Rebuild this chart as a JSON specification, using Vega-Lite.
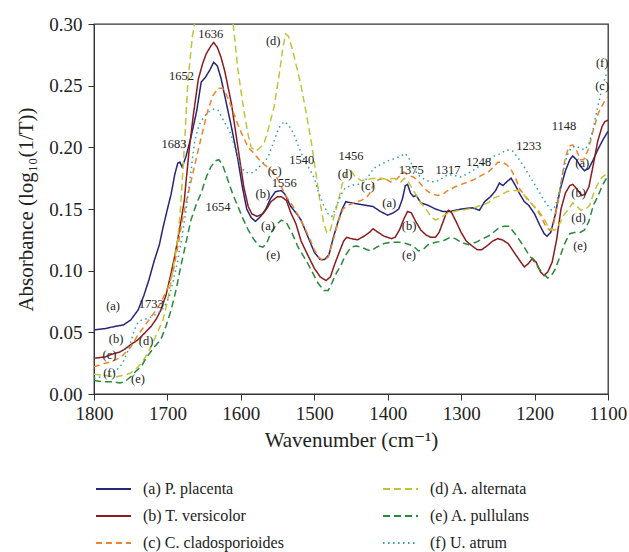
{
  "$schema": "https://vega.github.io/schema/vega-lite/v6.json",
  "width": 514,
  "height": 370,
  "padding": {"left": 15, "top": 15, "right": 5, "bottom": 5},
  "background": "white",
  "config": {
    "font": "Liberation Serif, DejaVu Serif, serif",
    "view": {"stroke": "#333", "strokeWidth": 1.3},
    "axis": {"grid": false, "domainColor": "#333", "tickColor": "#333", "labelColor": "#222", "titleColor": "#222", "labelFont": "Liberation Serif, DejaVu Serif, serif", "titleFont": "Liberation Serif, DejaVu Serif, serif", "titleFontWeight": "normal"},
    "legend": {"labelFont": "Liberation Serif, DejaVu Serif, serif"},
    "text": {"font": "Liberation Serif, DejaVu Serif, serif"}
  },
  "datasets": {
    "spectra": [
      {"s":"a","w":1800,"v":0.052},{"s":"a","w":1785,"v":0.053},{"s":"a","w":1770,"v":0.055},{"s":"a","w":1760,"v":0.056},{"s":"a","w":1750,"v":0.060},{"s":"a","w":1740,"v":0.068},{"s":"a","w":1732,"v":0.080},{"s":"a","w":1725,"v":0.093},{"s":"a","w":1718,"v":0.108},{"s":"a","w":1711,"v":0.121},{"s":"a","w":1706,"v":0.135},{"s":"a","w":1700,"v":0.150},{"s":"a","w":1695,"v":0.162},{"s":"a","w":1690,"v":0.178},{"s":"a","w":1686,"v":0.187},{"s":"a","w":1683,"v":0.188},{"s":"a","w":1680,"v":0.184},{"s":"a","w":1675,"v":0.192},{"s":"a","w":1668,"v":0.208},{"s":"a","w":1660,"v":0.230},{"s":"a","w":1654,"v":0.253},{"s":"a","w":1648,"v":0.257},{"s":"a","w":1642,"v":0.263},{"s":"a","w":1637,"v":0.269},{"s":"a","w":1632,"v":0.266},{"s":"a","w":1627,"v":0.256},{"s":"a","w":1622,"v":0.242},{"s":"a","w":1613,"v":0.217},{"s":"a","w":1604,"v":0.190},{"s":"a","w":1598,"v":0.168},{"s":"a","w":1592,"v":0.150},{"s":"a","w":1586,"v":0.143},{"s":"a","w":1580,"v":0.140},{"s":"a","w":1573,"v":0.144},{"s":"a","w":1566,"v":0.150},{"s":"a","w":1560,"v":0.158},{"s":"a","w":1553,"v":0.164},{"s":"a","w":1545,"v":0.165},{"s":"a","w":1540,"v":0.162},{"s":"a","w":1532,"v":0.152},{"s":"a","w":1525,"v":0.147},{"s":"a","w":1518,"v":0.141},{"s":"a","w":1509,"v":0.128},{"s":"a","w":1500,"v":0.115},{"s":"a","w":1492,"v":0.109},{"s":"a","w":1486,"v":0.109},{"s":"a","w":1480,"v":0.113},{"s":"a","w":1474,"v":0.127},{"s":"a","w":1468,"v":0.139},{"s":"a","w":1462,"v":0.150},{"s":"a","w":1457,"v":0.156},{"s":"a","w":1450,"v":0.155},{"s":"a","w":1440,"v":0.154},{"s":"a","w":1430,"v":0.153},{"s":"a","w":1420,"v":0.152},{"s":"a","w":1410,"v":0.148},{"s":"a","w":1400,"v":0.145},{"s":"a","w":1392,"v":0.147},{"s":"a","w":1385,"v":0.150},{"s":"a","w":1380,"v":0.158},{"s":"a","w":1376,"v":0.169},{"s":"a","w":1373,"v":0.170},{"s":"a","w":1369,"v":0.163},{"s":"a","w":1365,"v":0.160},{"s":"a","w":1361,"v":0.161},{"s":"a","w":1355,"v":0.155},{"s":"a","w":1345,"v":0.153},{"s":"a","w":1335,"v":0.150},{"s":"a","w":1325,"v":0.148},{"s":"a","w":1315,"v":0.148},{"s":"a","w":1300,"v":0.150},{"s":"a","w":1285,"v":0.151},{"s":"a","w":1275,"v":0.149},{"s":"a","w":1268,"v":0.156},{"s":"a","w":1260,"v":0.160},{"s":"a","w":1253,"v":0.165},{"s":"a","w":1248,"v":0.171},{"s":"a","w":1243,"v":0.169},{"s":"a","w":1238,"v":0.172},{"s":"a","w":1232,"v":0.175},{"s":"a","w":1226,"v":0.169},{"s":"a","w":1220,"v":0.162},{"s":"a","w":1214,"v":0.156},{"s":"a","w":1208,"v":0.153},{"s":"a","w":1200,"v":0.146},{"s":"a","w":1193,"v":0.137},{"s":"a","w":1187,"v":0.130},{"s":"a","w":1183,"v":0.128},{"s":"a","w":1178,"v":0.131},{"s":"a","w":1172,"v":0.145},{"s":"a","w":1165,"v":0.166},{"s":"a","w":1158,"v":0.181},{"s":"a","w":1152,"v":0.190},{"s":"a","w":1148,"v":0.193},{"s":"a","w":1143,"v":0.190},{"s":"a","w":1138,"v":0.185},{"s":"a","w":1132,"v":0.181},{"s":"a","w":1126,"v":0.183},{"s":"a","w":1120,"v":0.190},{"s":"a","w":1114,"v":0.198},{"s":"a","w":1107,"v":0.206},{"s":"a","w":1100,"v":0.213},

      {"s":"b","w":1800,"v":0.029},{"s":"b","w":1785,"v":0.030},{"s":"b","w":1777,"v":0.032},{"s":"b","w":1765,"v":0.034},{"s":"b","w":1759,"v":0.036},{"s":"b","w":1750,"v":0.040},{"s":"b","w":1740,"v":0.044},{"s":"b","w":1730,"v":0.050},{"s":"b","w":1722,"v":0.055},{"s":"b","w":1715,"v":0.061},{"s":"b","w":1709,"v":0.068},{"s":"b","w":1702,"v":0.080},{"s":"b","w":1695,"v":0.098},{"s":"b","w":1690,"v":0.112},{"s":"b","w":1686,"v":0.125},{"s":"b","w":1681,"v":0.142},{"s":"b","w":1677,"v":0.157},{"s":"b","w":1675,"v":0.170},{"s":"b","w":1670,"v":0.200},{"s":"b","w":1665,"v":0.225},{"s":"b","w":1658,"v":0.255},{"s":"b","w":1652,"v":0.268},{"s":"b","w":1647,"v":0.276},{"s":"b","w":1641,"v":0.282},{"s":"b","w":1637,"v":0.285},{"s":"b","w":1632,"v":0.281},{"s":"b","w":1627,"v":0.273},{"s":"b","w":1622,"v":0.262},{"s":"b","w":1613,"v":0.236},{"s":"b","w":1604,"v":0.200},{"s":"b","w":1596,"v":0.168},{"s":"b","w":1590,"v":0.152},{"s":"b","w":1585,"v":0.146},{"s":"b","w":1578,"v":0.144},{"s":"b","w":1570,"v":0.146},{"s":"b","w":1565,"v":0.150},{"s":"b","w":1559,"v":0.156},{"s":"b","w":1550,"v":0.160},{"s":"b","w":1545,"v":0.160},{"s":"b","w":1538,"v":0.157},{"s":"b","w":1532,"v":0.147},{"s":"b","w":1525,"v":0.138},{"s":"b","w":1518,"v":0.124},{"s":"b","w":1510,"v":0.114},{"s":"b","w":1500,"v":0.102},{"s":"b","w":1492,"v":0.095},{"s":"b","w":1484,"v":0.092},{"s":"b","w":1478,"v":0.095},{"s":"b","w":1473,"v":0.104},{"s":"b","w":1466,"v":0.115},{"s":"b","w":1460,"v":0.124},{"s":"b","w":1456,"v":0.127},{"s":"b","w":1450,"v":0.126},{"s":"b","w":1441,"v":0.125},{"s":"b","w":1432,"v":0.128},{"s":"b","w":1425,"v":0.131},{"s":"b","w":1420,"v":0.134},{"s":"b","w":1413,"v":0.131},{"s":"b","w":1405,"v":0.128},{"s":"b","w":1395,"v":0.126},{"s":"b","w":1390,"v":0.127},{"s":"b","w":1384,"v":0.133},{"s":"b","w":1378,"v":0.142},{"s":"b","w":1373,"v":0.148},{"s":"b","w":1368,"v":0.147},{"s":"b","w":1362,"v":0.140},{"s":"b","w":1355,"v":0.133},{"s":"b","w":1348,"v":0.129},{"s":"b","w":1341,"v":0.127},{"s":"b","w":1335,"v":0.127},{"s":"b","w":1330,"v":0.131},{"s":"b","w":1325,"v":0.139},{"s":"b","w":1320,"v":0.147},{"s":"b","w":1317,"v":0.149},{"s":"b","w":1313,"v":0.147},{"s":"b","w":1307,"v":0.140},{"s":"b","w":1300,"v":0.131},{"s":"b","w":1293,"v":0.124},{"s":"b","w":1285,"v":0.120},{"s":"b","w":1278,"v":0.117},{"s":"b","w":1272,"v":0.117},{"s":"b","w":1265,"v":0.120},{"s":"b","w":1257,"v":0.124},{"s":"b","w":1250,"v":0.126},{"s":"b","w":1244,"v":0.125},{"s":"b","w":1236,"v":0.122},{"s":"b","w":1228,"v":0.115},{"s":"b","w":1220,"v":0.108},{"s":"b","w":1214,"v":0.103},{"s":"b","w":1208,"v":0.106},{"s":"b","w":1203,"v":0.110},{"s":"b","w":1198,"v":0.107},{"s":"b","w":1192,"v":0.099},{"s":"b","w":1187,"v":0.096},{"s":"b","w":1182,"v":0.099},{"s":"b","w":1176,"v":0.107},{"s":"b","w":1170,"v":0.125},{"s":"b","w":1164,"v":0.150},{"s":"b","w":1158,"v":0.163},{"s":"b","w":1152,"v":0.169},{"s":"b","w":1148,"v":0.170},{"s":"b","w":1142,"v":0.166},{"s":"b","w":1136,"v":0.161},{"s":"b","w":1131,"v":0.162},{"s":"b","w":1126,"v":0.168},{"s":"b","w":1120,"v":0.186},{"s":"b","w":1114,"v":0.205},{"s":"b","w":1108,"v":0.217},{"s":"b","w":1104,"v":0.221},{"s":"b","w":1100,"v":0.222},

      {"s":"c","w":1800,"v":0.022},{"s":"c","w":1790,"v":0.024},{"s":"c","w":1777,"v":0.026},{"s":"c","w":1763,"v":0.030},{"s":"c","w":1750,"v":0.038},{"s":"c","w":1740,"v":0.048},{"s":"c","w":1730,"v":0.056},{"s":"c","w":1718,"v":0.066},{"s":"c","w":1708,"v":0.075},{"s":"c","w":1699,"v":0.087},{"s":"c","w":1692,"v":0.100},{"s":"c","w":1686,"v":0.119},{"s":"c","w":1680,"v":0.140},{"s":"c","w":1674,"v":0.157},{"s":"c","w":1668,"v":0.172},{"s":"c","w":1660,"v":0.193},{"s":"c","w":1654,"v":0.208},{"s":"c","w":1645,"v":0.230},{"s":"c","w":1638,"v":0.242},{"s":"c","w":1631,"v":0.248},{"s":"c","w":1625,"v":0.248},{"s":"c","w":1620,"v":0.243},{"s":"c","w":1613,"v":0.233},{"s":"c","w":1605,"v":0.220},{"s":"c","w":1598,"v":0.210},{"s":"c","w":1590,"v":0.200},{"s":"c","w":1582,"v":0.195},{"s":"c","w":1575,"v":0.190},{"s":"c","w":1568,"v":0.186},{"s":"c","w":1560,"v":0.182},{"s":"c","w":1553,"v":0.178},{"s":"c","w":1545,"v":0.168},{"s":"c","w":1538,"v":0.160},{"s":"c","w":1532,"v":0.155},{"s":"c","w":1522,"v":0.145},{"s":"c","w":1514,"v":0.136},{"s":"c","w":1507,"v":0.127},{"s":"c","w":1500,"v":0.117},{"s":"c","w":1494,"v":0.111},{"s":"c","w":1488,"v":0.108},{"s":"c","w":1481,"v":0.111},{"s":"c","w":1474,"v":0.125},{"s":"c","w":1468,"v":0.139},{"s":"c","w":1461,"v":0.150},{"s":"c","w":1454,"v":0.153},{"s":"c","w":1446,"v":0.155},{"s":"c","w":1436,"v":0.157},{"s":"c","w":1428,"v":0.160},{"s":"c","w":1423,"v":0.164},{"s":"c","w":1419,"v":0.171},{"s":"c","w":1412,"v":0.174},{"s":"c","w":1405,"v":0.175},{"s":"c","w":1396,"v":0.172},{"s":"c","w":1388,"v":0.174},{"s":"c","w":1382,"v":0.178},{"s":"c","w":1378,"v":0.180},{"s":"c","w":1372,"v":0.177},{"s":"c","w":1365,"v":0.176},{"s":"c","w":1359,"v":0.173},{"s":"c","w":1352,"v":0.168},{"s":"c","w":1345,"v":0.164},{"s":"c","w":1338,"v":0.162},{"s":"c","w":1332,"v":0.161},{"s":"c","w":1325,"v":0.162},{"s":"c","w":1318,"v":0.165},{"s":"c","w":1308,"v":0.168},{"s":"c","w":1300,"v":0.170},{"s":"c","w":1290,"v":0.172},{"s":"c","w":1282,"v":0.174},{"s":"c","w":1273,"v":0.177},{"s":"c","w":1263,"v":0.180},{"s":"c","w":1256,"v":0.184},{"s":"c","w":1250,"v":0.188},{"s":"c","w":1244,"v":0.188},{"s":"c","w":1238,"v":0.186},{"s":"c","w":1232,"v":0.182},{"s":"c","w":1226,"v":0.175},{"s":"c","w":1220,"v":0.166},{"s":"c","w":1212,"v":0.160},{"s":"c","w":1205,"v":0.155},{"s":"c","w":1198,"v":0.150},{"s":"c","w":1191,"v":0.144},{"s":"c","w":1185,"v":0.136},{"s":"c","w":1180,"v":0.133},{"s":"c","w":1175,"v":0.135},{"s":"c","w":1170,"v":0.150},{"s":"c","w":1164,"v":0.171},{"s":"c","w":1158,"v":0.192},{"s":"c","w":1153,"v":0.201},{"s":"c","w":1148,"v":0.202},{"s":"c","w":1143,"v":0.198},{"s":"c","w":1138,"v":0.190},{"s":"c","w":1133,"v":0.190},{"s":"c","w":1127,"v":0.198},{"s":"c","w":1120,"v":0.214},{"s":"c","w":1113,"v":0.228},{"s":"c","w":1106,"v":0.236},{"s":"c","w":1100,"v":0.241},

      {"s":"d","w":1800,"v":0.016},{"s":"d","w":1785,"v":0.015},{"s":"d","w":1770,"v":0.014},{"s":"d","w":1760,"v":0.015},{"s":"d","w":1750,"v":0.017},{"s":"d","w":1740,"v":0.022},{"s":"d","w":1732,"v":0.028},{"s":"d","w":1725,"v":0.035},{"s":"d","w":1718,"v":0.044},{"s":"d","w":1712,"v":0.052},{"s":"d","w":1706,"v":0.060},{"s":"d","w":1700,"v":0.075},{"s":"d","w":1695,"v":0.092},{"s":"d","w":1690,"v":0.110},{"s":"d","w":1686,"v":0.125},{"s":"d","w":1682,"v":0.152},{"s":"d","w":1677,"v":0.200},{"s":"d","w":1672,"v":0.255},{"s":"d","w":1666,"v":0.290},{"s":"d","w":1660,"v":0.310},{"s":"d","w":1650,"v":0.330},{"s":"d","w":1640,"v":0.340},{"s":"d","w":1630,"v":0.335},{"s":"d","w":1620,"v":0.320},{"s":"d","w":1611,"v":0.303},{"s":"d","w":1604,"v":0.263},{"s":"d","w":1596,"v":0.230},{"s":"d","w":1590,"v":0.210},{"s":"d","w":1586,"v":0.200},{"s":"d","w":1580,"v":0.197},{"s":"d","w":1573,"v":0.200},{"s":"d","w":1568,"v":0.204},{"s":"d","w":1563,"v":0.214},{"s":"d","w":1555,"v":0.232},{"s":"d","w":1548,"v":0.258},{"s":"d","w":1543,"v":0.280},{"s":"d","w":1539,"v":0.292},{"s":"d","w":1535,"v":0.290},{"s":"d","w":1530,"v":0.280},{"s":"d","w":1524,"v":0.265},{"s":"d","w":1518,"v":0.250},{"s":"d","w":1511,"v":0.228},{"s":"d","w":1504,"v":0.204},{"s":"d","w":1498,"v":0.180},{"s":"d","w":1492,"v":0.155},{"s":"d","w":1487,"v":0.138},{"s":"d","w":1483,"v":0.131},{"s":"d","w":1479,"v":0.131},{"s":"d","w":1474,"v":0.142},{"s":"d","w":1468,"v":0.155},{"s":"d","w":1462,"v":0.170},{"s":"d","w":1456,"v":0.180},{"s":"d","w":1450,"v":0.181},{"s":"d","w":1444,"v":0.176},{"s":"d","w":1436,"v":0.173},{"s":"d","w":1428,"v":0.174},{"s":"d","w":1418,"v":0.175},{"s":"d","w":1410,"v":0.175},{"s":"d","w":1400,"v":0.174},{"s":"d","w":1391,"v":0.175},{"s":"d","w":1382,"v":0.172},{"s":"d","w":1377,"v":0.175},{"s":"d","w":1372,"v":0.172},{"s":"d","w":1366,"v":0.166},{"s":"d","w":1360,"v":0.160},{"s":"d","w":1355,"v":0.155},{"s":"d","w":1348,"v":0.150},{"s":"d","w":1341,"v":0.144},{"s":"d","w":1335,"v":0.141},{"s":"d","w":1328,"v":0.143},{"s":"d","w":1320,"v":0.146},{"s":"d","w":1310,"v":0.148},{"s":"d","w":1300,"v":0.149},{"s":"d","w":1290,"v":0.150},{"s":"d","w":1282,"v":0.151},{"s":"d","w":1273,"v":0.153},{"s":"d","w":1263,"v":0.155},{"s":"d","w":1255,"v":0.159},{"s":"d","w":1246,"v":0.161},{"s":"d","w":1238,"v":0.164},{"s":"d","w":1232,"v":0.165},{"s":"d","w":1223,"v":0.165},{"s":"d","w":1215,"v":0.162},{"s":"d","w":1209,"v":0.157},{"s":"d","w":1202,"v":0.153},{"s":"d","w":1195,"v":0.149},{"s":"d","w":1188,"v":0.143},{"s":"d","w":1182,"v":0.136},{"s":"d","w":1177,"v":0.133},{"s":"d","w":1172,"v":0.133},{"s":"d","w":1166,"v":0.138},{"s":"d","w":1160,"v":0.145},{"s":"d","w":1155,"v":0.149},{"s":"d","w":1148,"v":0.155},{"s":"d","w":1142,"v":0.152},{"s":"d","w":1137,"v":0.149},{"s":"d","w":1130,"v":0.150},{"s":"d","w":1125,"v":0.153},{"s":"d","w":1120,"v":0.162},{"s":"d","w":1115,"v":0.169},{"s":"d","w":1108,"v":0.176},{"s":"d","w":1100,"v":0.179},

      {"s":"e","w":1800,"v":0.011},{"s":"e","w":1790,"v":0.010},{"s":"e","w":1777,"v":0.010},{"s":"e","w":1765,"v":0.009},{"s":"e","w":1758,"v":0.010},{"s":"e","w":1750,"v":0.014},{"s":"e","w":1742,"v":0.019},{"s":"e","w":1736,"v":0.022},{"s":"e","w":1728,"v":0.030},{"s":"e","w":1718,"v":0.038},{"s":"e","w":1709,"v":0.044},{"s":"e","w":1702,"v":0.055},{"s":"e","w":1695,"v":0.068},{"s":"e","w":1688,"v":0.085},{"s":"e","w":1682,"v":0.103},{"s":"e","w":1675,"v":0.122},{"s":"e","w":1668,"v":0.141},{"s":"e","w":1660,"v":0.155},{"s":"e","w":1654,"v":0.163},{"s":"e","w":1647,"v":0.176},{"s":"e","w":1641,"v":0.184},{"s":"e","w":1635,"v":0.189},{"s":"e","w":1630,"v":0.190},{"s":"e","w":1625,"v":0.186},{"s":"e","w":1618,"v":0.174},{"s":"e","w":1611,"v":0.162},{"s":"e","w":1604,"v":0.152},{"s":"e","w":1597,"v":0.142},{"s":"e","w":1590,"v":0.133},{"s":"e","w":1582,"v":0.125},{"s":"e","w":1575,"v":0.120},{"s":"e","w":1570,"v":0.119},{"s":"e","w":1565,"v":0.122},{"s":"e","w":1559,"v":0.131},{"s":"e","w":1552,"v":0.137},{"s":"e","w":1545,"v":0.141},{"s":"e","w":1538,"v":0.139},{"s":"e","w":1530,"v":0.130},{"s":"e","w":1522,"v":0.119},{"s":"e","w":1515,"v":0.112},{"s":"e","w":1509,"v":0.106},{"s":"e","w":1502,"v":0.098},{"s":"e","w":1495,"v":0.090},{"s":"e","w":1487,"v":0.084},{"s":"e","w":1481,"v":0.084},{"s":"e","w":1476,"v":0.090},{"s":"e","w":1470,"v":0.098},{"s":"e","w":1464,"v":0.104},{"s":"e","w":1458,"v":0.112},{"s":"e","w":1450,"v":0.119},{"s":"e","w":1443,"v":0.120},{"s":"e","w":1436,"v":0.119},{"s":"e","w":1428,"v":0.117},{"s":"e","w":1423,"v":0.116},{"s":"e","w":1415,"v":0.119},{"s":"e","w":1405,"v":0.122},{"s":"e","w":1395,"v":0.123},{"s":"e","w":1385,"v":0.123},{"s":"e","w":1375,"v":0.122},{"s":"e","w":1365,"v":0.120},{"s":"e","w":1358,"v":0.116},{"s":"e","w":1352,"v":0.117},{"s":"e","w":1345,"v":0.121},{"s":"e","w":1335,"v":0.123},{"s":"e","w":1325,"v":0.124},{"s":"e","w":1315,"v":0.127},{"s":"e","w":1308,"v":0.126},{"s":"e","w":1300,"v":0.123},{"s":"e","w":1290,"v":0.121},{"s":"e","w":1280,"v":0.123},{"s":"e","w":1270,"v":0.126},{"s":"e","w":1260,"v":0.129},{"s":"e","w":1250,"v":0.134},{"s":"e","w":1242,"v":0.136},{"s":"e","w":1235,"v":0.136},{"s":"e","w":1228,"v":0.131},{"s":"e","w":1222,"v":0.126},{"s":"e","w":1215,"v":0.120},{"s":"e","w":1208,"v":0.113},{"s":"e","w":1200,"v":0.107},{"s":"e","w":1193,"v":0.101},{"s":"e","w":1187,"v":0.097},{"s":"e","w":1182,"v":0.094},{"s":"e","w":1177,"v":0.096},{"s":"e","w":1172,"v":0.101},{"s":"e","w":1165,"v":0.112},{"s":"e","w":1159,"v":0.122},{"s":"e","w":1152,"v":0.130},{"s":"e","w":1146,"v":0.131},{"s":"e","w":1138,"v":0.131},{"s":"e","w":1132,"v":0.133},{"s":"e","w":1126,"v":0.140},{"s":"e","w":1120,"v":0.153},{"s":"e","w":1114,"v":0.160},{"s":"e","w":1107,"v":0.170},{"s":"e","w":1100,"v":0.177},

      {"s":"f","w":1800,"v":0.013},{"s":"f","w":1790,"v":0.014},{"s":"f","w":1780,"v":0.016},{"s":"f","w":1770,"v":0.019},{"s":"f","w":1762,"v":0.024},{"s":"f","w":1755,"v":0.033},{"s":"f","w":1750,"v":0.042},{"s":"f","w":1745,"v":0.052},{"s":"f","w":1740,"v":0.058},{"s":"f","w":1735,"v":0.060},{"s":"f","w":1728,"v":0.061},{"s":"f","w":1720,"v":0.063},{"s":"f","w":1712,"v":0.066},{"s":"f","w":1705,"v":0.070},{"s":"f","w":1698,"v":0.078},{"s":"f","w":1692,"v":0.092},{"s":"f","w":1686,"v":0.108},{"s":"f","w":1680,"v":0.128},{"s":"f","w":1674,"v":0.152},{"s":"f","w":1668,"v":0.180},{"s":"f","w":1663,"v":0.205},{"s":"f","w":1657,"v":0.218},{"s":"f","w":1650,"v":0.225},{"s":"f","w":1643,"v":0.229},{"s":"f","w":1637,"v":0.231},{"s":"f","w":1631,"v":0.230},{"s":"f","w":1624,"v":0.222},{"s":"f","w":1618,"v":0.216},{"s":"f","w":1613,"v":0.210},{"s":"f","w":1606,"v":0.195},{"s":"f","w":1600,"v":0.184},{"s":"f","w":1594,"v":0.180},{"s":"f","w":1588,"v":0.179},{"s":"f","w":1582,"v":0.180},{"s":"f","w":1577,"v":0.183},{"s":"f","w":1570,"v":0.187},{"s":"f","w":1563,"v":0.192},{"s":"f","w":1555,"v":0.205},{"s":"f","w":1548,"v":0.216},{"s":"f","w":1541,"v":0.221},{"s":"f","w":1535,"v":0.218},{"s":"f","w":1528,"v":0.211},{"s":"f","w":1521,"v":0.200},{"s":"f","w":1514,"v":0.190},{"s":"f","w":1507,"v":0.183},{"s":"f","w":1500,"v":0.175},{"s":"f","w":1494,"v":0.163},{"s":"f","w":1488,"v":0.154},{"s":"f","w":1481,"v":0.146},{"s":"f","w":1476,"v":0.144},{"s":"f","w":1470,"v":0.152},{"s":"f","w":1464,"v":0.161},{"s":"f","w":1458,"v":0.167},{"s":"f","w":1450,"v":0.169},{"s":"f","w":1443,"v":0.170},{"s":"f","w":1436,"v":0.170},{"s":"f","w":1428,"v":0.175},{"s":"f","w":1419,"v":0.183},{"s":"f","w":1410,"v":0.186},{"s":"f","w":1400,"v":0.189},{"s":"f","w":1390,"v":0.191},{"s":"f","w":1382,"v":0.193},{"s":"f","w":1376,"v":0.195},{"s":"f","w":1370,"v":0.190},{"s":"f","w":1364,"v":0.182},{"s":"f","w":1357,"v":0.177},{"s":"f","w":1350,"v":0.174},{"s":"f","w":1342,"v":0.172},{"s":"f","w":1335,"v":0.172},{"s":"f","w":1328,"v":0.174},{"s":"f","w":1318,"v":0.178},{"s":"f","w":1308,"v":0.177},{"s":"f","w":1300,"v":0.176},{"s":"f","w":1290,"v":0.179},{"s":"f","w":1282,"v":0.182},{"s":"f","w":1272,"v":0.186},{"s":"f","w":1263,"v":0.190},{"s":"f","w":1255,"v":0.193},{"s":"f","w":1246,"v":0.195},{"s":"f","w":1238,"v":0.198},{"s":"f","w":1230,"v":0.197},{"s":"f","w":1222,"v":0.191},{"s":"f","w":1214,"v":0.184},{"s":"f","w":1207,"v":0.177},{"s":"f","w":1200,"v":0.170},{"s":"f","w":1193,"v":0.163},{"s":"f","w":1187,"v":0.157},{"s":"f","w":1181,"v":0.152},{"s":"f","w":1177,"v":0.149},{"s":"f","w":1172,"v":0.152},{"s":"f","w":1167,"v":0.162},{"s":"f","w":1162,"v":0.178},{"s":"f","w":1156,"v":0.193},{"s":"f","w":1150,"v":0.200},{"s":"f","w":1143,"v":0.201},{"s":"f","w":1137,"v":0.199},{"s":"f","w":1132,"v":0.198},{"s":"f","w":1126,"v":0.203},{"s":"f","w":1120,"v":0.215},{"s":"f","w":1114,"v":0.233},{"s":"f","w":1108,"v":0.248},{"s":"f","w":1103,"v":0.258},{"s":"f","w":1100,"v":0.263}
    ],
    "notes": [
      {"t":"1636","w":1641,"v":0.292},{"t":"1652","w":1681,"v":0.258},{"t":"1683","w":1691,"v":0.203},
      {"t":"(d)","w":1556,"v":0.286},{"t":"1540","w":1517,"v":0.190},{"t":"(c)","w":1554,"v":0.181},
      {"t":"1556","w":1541,"v":0.171},{"t":"(b)","w":1570,"v":0.162},{"t":"(a)","w":1563,"v":0.136},
      {"t":"(e)","w":1556,"v":0.113},{"t":"1654","w":1631,"v":0.152},
      {"t":"(a)","w":1774,"v":0.071},{"t":"1733","w":1722,"v":0.073},{"t":"(b)","w":1770,"v":0.045},
      {"t":"(c)","w":1779,"v":0.032},{"t":"(d)","w":1729,"v":0.043},{"t":"(f)","w":1779,"v":0.017},
      {"t":"(e)","w":1740,"v":0.012},
      {"t":"1456","w":1450,"v":0.193},{"t":"(d)","w":1458,"v":0.178},{"t":"(c)","w":1427,"v":0.169},
      {"t":"1375","w":1368,"v":0.182},{"t":"1317","w":1318,"v":0.182},{"t":"1248","w":1276,"v":0.188},
      {"t":"1233","w":1208,"v":0.201},{"t":"1148","w":1160,"v":0.217},
      {"t":"(f)","w":1108,"v":0.268},{"t":"(c)","w":1108,"v":0.250},{"t":"(a)","w":1135,"v":0.187},
      {"t":"(a)","w":1398,"v":0.155},{"t":"(b)","w":1371,"v":0.136},{"t":"(e)","w":1371,"v":0.113},
      {"t":"(b)","w":1140,"v":0.163},{"t":"(d)","w":1140,"v":0.143},{"t":"(e)","w":1138,"v":0.120}
    ]
  },
  "layer": [
    {
      "data": {"name": "spectra"},
      "mark": {"type": "line", "strokeWidth": 1.5, "clip": true},
      "encoding": {
        "x": {"field": "w", "type": "quantitative",
              "scale": {"domain": [1100, 1800], "reverse": true, "nice": false, "zero": false},
              "axis": {"values": [1800,1700,1600,1500,1400,1300,1200,1100], "format": "d", "title": "Wavenumber (cm\u207b\u00b9)", "labelFontSize": 19, "titleFontSize": 21, "tickSize": 6, "labelPadding": 4, "titlePadding": 6, "labelFlush": false}},
        "y": {"field": "v", "type": "quantitative",
              "scale": {"domain": [0, 0.3], "nice": false},
              "axis": {"values": [0,0.05,0.1,0.15,0.2,0.25,0.3], "format": ".2f", "title": "Absorbance (log\u2081\u2080(1/T))", "labelFontSize": 19, "titleFontSize": 21, "tickSize": 6, "labelPadding": 6, "titlePadding": 12}},
        "color": {"field": "s", "type": "nominal",
                  "scale": {"domain": ["a","b","c","d","e","f"], "range": ["#262678","#8c1c1c","#f0822a","#c3c33a","#278a3a","#30a0a8"]},
                  "legend": {"orient": "none", "legendX": 11.5, "legendY": 457, "columns": 2, "columnPadding": 94, "rowPadding": 11, "title": null,
                             "symbolType": "M-2.5,0H2.5", "symbolSize": 196, "symbolStrokeWidth": 2, "symbolFillColor": "transparent", "labelFontSize": 16, "labelColor": "#222", "labelOffset": 21.5, "labelLimit": 300,
                             "labelExpr": "datum.value == 'a' ? '(a) P. placenta' : datum.value == 'b' ? '(b) T. versicolor' : datum.value == 'c' ? '(c) C. cladosporioides' : datum.value == 'd' ? '(d) A. alternata' : datum.value == 'e' ? '(e) A. pullulans' : '(f) U. atrum'"}},
        "strokeDash": {"field": "s", "type": "nominal",
                       "scale": {"domain": ["a","b","c","d","e","f"], "range": [[1,0],[1,0],[6,4],[7,4],[7,4],[1.5,3.5]]},
                       "legend": null}
      }
    },
    {
      "data": {"name": "notes"},
      "mark": {"type": "text", "fontSize": 12.5, "color": "#222"},
      "encoding": {
        "x": {"field": "w", "type": "quantitative"},
        "y": {"field": "v", "type": "quantitative"},
        "text": {"field": "t"}
      }
    }
  ]
}
